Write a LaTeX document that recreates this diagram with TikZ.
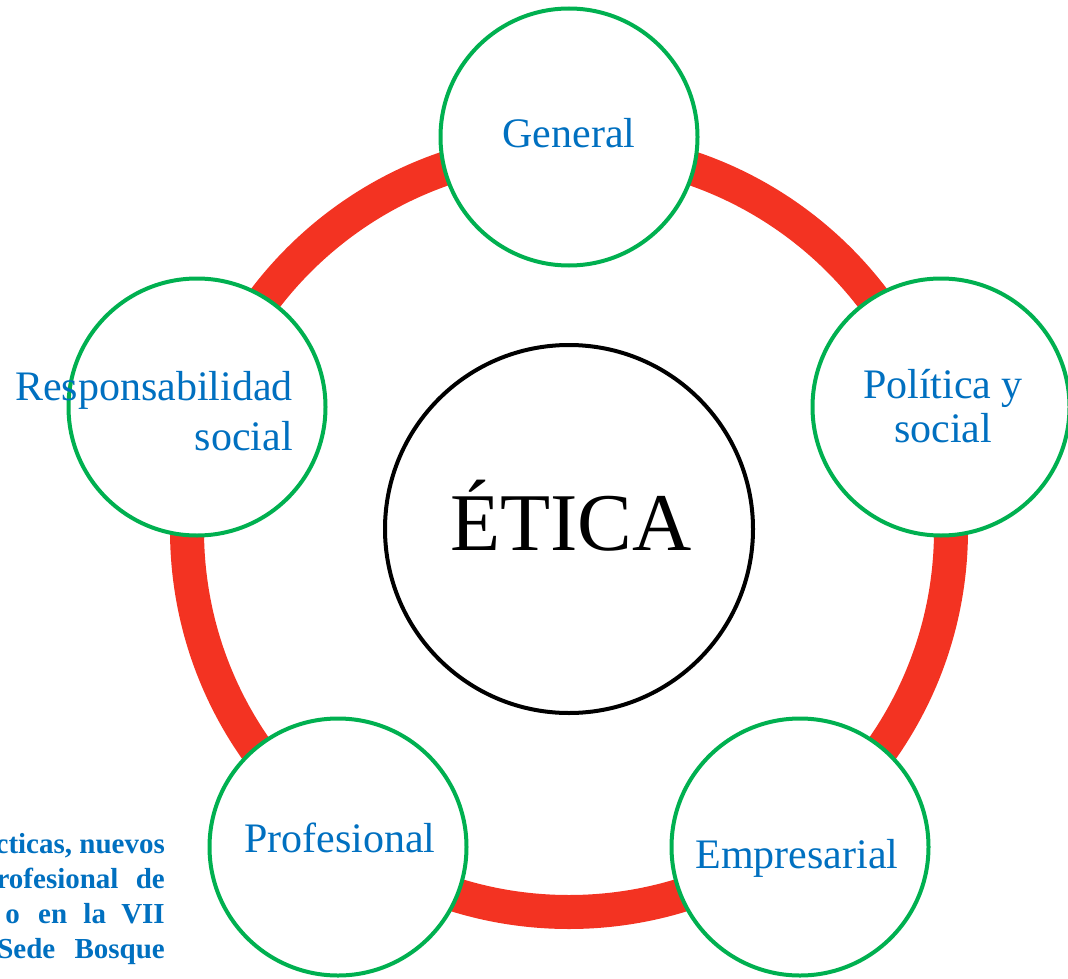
\documentclass[tikz,border=0pt]{standalone}
\usepackage{fontspec}
\setmainfont{Liberation Serif}
\definecolor{ringred}{HTML}{F33322}
\definecolor{circgreen}{HTML}{00B050}
\definecolor{txtblue}{HTML}{0070C0}
\tikzset{
  topic/.style={circle, draw=circgreen, line width=4pt, fill=white, minimum size=257pt, inner sep=0pt},
  core/.style={circle, draw=black, line width=4pt, fill=white, minimum size=368pt, inner sep=0pt},
  lbl/.style={text=txtblue, font=\fontsize{42}{44}\selectfont, inner sep=0pt},
  note/.style={text=txtblue, font=\bfseries\fontsize{29}{35}\selectfont, inner sep=0pt, anchor=base east}
}
\begin{document}
\begin{tikzpicture}[x=1pt,y=-1pt]
\useasboundingbox (0,0) rectangle (1068,979);
\fill[white] (0,0) rectangle (1068,979);
\coordinate (ringc) at (569,530);
\draw[ringred, line width=34pt] (ringc) circle[radius=382pt];
% side note (cut at left border, as in the reference)
\begin{scope}
\clip (0,0) rectangle (1068,979);
\node[note] (n1) at (165,853) {prácticas, nuevos};
\node[note] (n2) at (165,888) {profesional\hspace{10pt} de};
\node[note] (n3) at (165,923) {o\hspace{11pt} en\hspace{9pt} la\hspace{8pt} VII};
\node[note] (n4) at (165,958) {Sede\hspace{12pt} Bosque};
\end{scope}
% topic circles
\node[topic] (gen) at (569,137) {};
\node[topic] (pol) at (941,407) {};
\node[topic] (emp) at (800,847) {};
\node[topic] (pro) at (338,847) {};
\node[topic] (res) at (197,407) {};
\node[core] (eti) at (569,529) {};
% labels
\node[lbl, anchor=base] (tgen) at (569,148) {General};
\node[lbl, anchor=base] (tpol1) at (943,398) {Política y};
\node[lbl, anchor=base] (tpol2) at (943,442) {social};
\node[lbl, anchor=base] (temp) at (797,868) {Empresarial};
\node[lbl, anchor=base] (tpro) at (340,852) {Profesional};
\node[lbl, anchor=base east] (tres1) at (293,400) {Responsabilidad};
\node[lbl, anchor=base east] (tres2) at (293,450) {social};
\node[anchor=base, inner sep=0pt, font=\fontsize{82}{90}\selectfont] (teti) at (571,550) {ÉTICA};
\end{tikzpicture}
\end{document}
